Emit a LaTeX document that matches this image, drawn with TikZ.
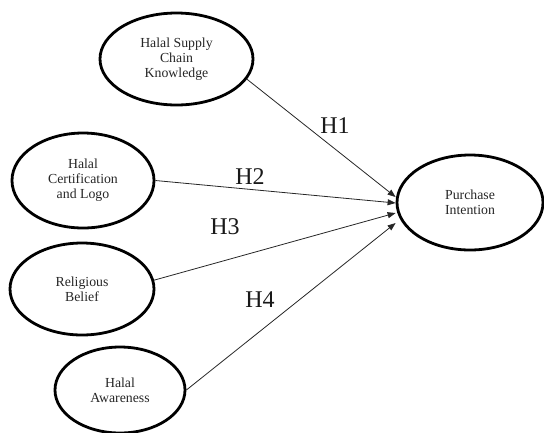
\documentclass[tikz,border=0pt]{standalone}
\usepackage{fontspec}
\setmainfont{Liberation Serif}
\usetikzlibrary{shapes.geometric,arrows.meta}
\begin{document}
\begin{tikzpicture}[x=1bp,y=-1bp,
  construct/.style={ellipse, draw=black, line width=2.8bp, inner sep=0pt, align=center,
    font=\fontsize{13.8bp}{15bp}\selectfont, text=black!85},
  path/.style={draw=black!85, line width=0.8bp, -{Triangle[length=8bp,width=6bp]}},
  hlabel/.style={font=\fontsize{24bp}{26bp}\selectfont, text=black!90, inner sep=0pt}]
\useasboundingbox (0,0) rectangle (544,432);
\node[construct, minimum width=153bp, minimum height=92bp] (hsck) at (176.5,59) {Halal Supply\\Chain\\Knowledge};
\node[construct, minimum width=142bp, minimum height=95bp] (hcl) at (83,180.5) {Halal\\Certification\\and Logo};
\node[construct, minimum width=144bp, minimum height=92bp] (rb) at (82,289) {Religious\\Belief};
\node[construct, minimum width=130bp, minimum height=86bp] (ha) at (120,390) {Halal\\Awareness};
\node[construct, minimum width=146bp, minimum height=95bp] (pi) at (470,202.5) {Purchase\\Intention};
\draw[path] (hsck.-16) -- ([yshift=5.5bp]pi.west);
\draw[path] (hcl.east) -- ([yshift=-0.5bp]pi.west);
\draw[path] (rb.7) -- ([yshift=-10.5bp]pi.west);
\draw[path] (ha.east) -- ([yshift=-20.5bp]pi.west);
\node[hlabel] (h1) at (335,126) {H1};
\node[hlabel] (h2) at (250,177) {H2};
\node[hlabel] (h3) at (225,227) {H3};
\node[hlabel] (h4) at (260,300) {H4};
\end{tikzpicture}
\end{document}
